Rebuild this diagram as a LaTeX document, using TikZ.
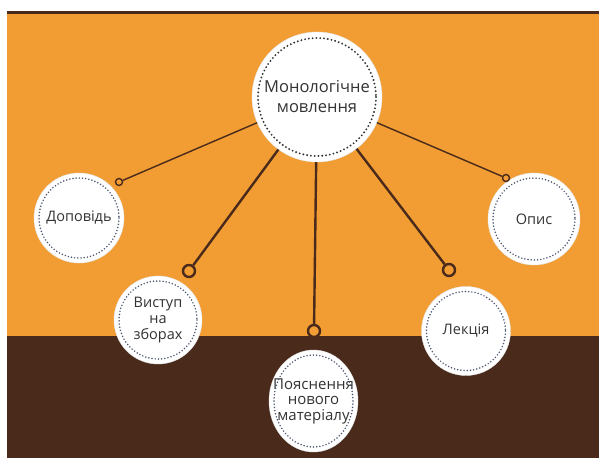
\documentclass[tikz,border=0pt]{standalone}
\usepackage{fontspec}
\setmainfont{Open Sans}
\usetikzlibrary{arrows,shapes,calc}
\usetikzlibrary{shapes.geometric}

\definecolor{bgorange}{HTML}{F29D34}
\definecolor{bgbrown}{HTML}{4A2A1B}
\definecolor{linebrown}{HTML}{4A2A1B}
\definecolor{txtgray}{HTML}{333333}
\definecolor{dotgray}{HTML}{4A5670}

\tikzset{
	bubble/.style={circle, fill=white, draw=white!90!black, line width=0.4pt, inner sep=0pt, text=txtgray, align=center, font=\fontsize{14.5}{16}\selectfont},
	dotring/.style={dotgray, line width=1.7pt, line cap=round, dash pattern=on 0pt off 3.2pt},
	hook/.style={circle, draw=linebrown, fill=none, inner sep=0pt},
	thinlink/.style={linebrown, line width=1.4pt},
	thicklink/.style={linebrown, line width=2.4pt}
}

\begin{document}
\begin{tikzpicture}[x=1pt,y=-1pt]
	
	\useasboundingbox (0,0) rectangle (599,458);
	\fill[white] (0,0) rectangle (599,458);
	\fill[bgorange] (7,13) rectangle (599,336);
	\fill[bgbrown] (7,11) rectangle (599,13.5);
	\fill[bgbrown] (7,336) rectangle (599,458);
	
	\node[bubble, minimum size=130pt, font=\fontsize{16.5}{20}\selectfont] (main) at (317,97) {Монологічне\\мовлення};
	\node[bubble, minimum size=90pt] (dop) at (79,218) {Доповідь};
	\node[bubble, minimum size=88pt] (vys) at (158,320) {Виступ\\на\\зборах};
	\node[bubble, ellipse, minimum width=89pt, minimum height=102pt,
		label={[text=txtgray, align=center, font=\fontsize{15}{15.5}\selectfont]center:Пояснення\\нового\\матеріалу}] (poy) at (313.5,401) {};
	\node[bubble, minimum size=89pt] (lek) at (466,331) {Лекція};
	\node[bubble, minimum size=92pt] (opys) at (534,219) {Опис};
	
	\draw[dotring, draw=black!80, line width=2.1pt, dash pattern=on 0pt off 3.8pt] (main.center) circle (59);
	\draw[dotring] (dop.center) circle (40);
	\draw[dotring] (vys.center) circle (39);
	\draw[dotring] (poy.center) ellipse (39.5 and 46);
	\draw[dotring] (lek.center) circle (39.5);
	\draw[dotring] (opys.center) circle (41);
	
	\node[hook, line width=1.4pt, minimum size=7pt] (h1) at (119,182) {};
	\node[hook, line width=2.4pt, minimum size=12pt] (h2) at (189,271) {};
	\node[hook, line width=2.4pt, minimum size=12pt] (h3) at (314,331) {};
	\node[hook, line width=2.4pt, minimum size=12pt] (h4) at (449,270) {};
	\node[hook, line width=1.4pt, minimum size=7pt] (h5) at (506,178) {};
	
	\draw[thinlink] (main) -- (h1);
	\draw[thicklink] (main) -- (h2);
	\draw[thicklink] (main) -- (h3);
	\draw[thicklink] (main) -- (h4);
	\draw[thinlink] (main) -- (h5);
	
\end{tikzpicture}
\end{document}
